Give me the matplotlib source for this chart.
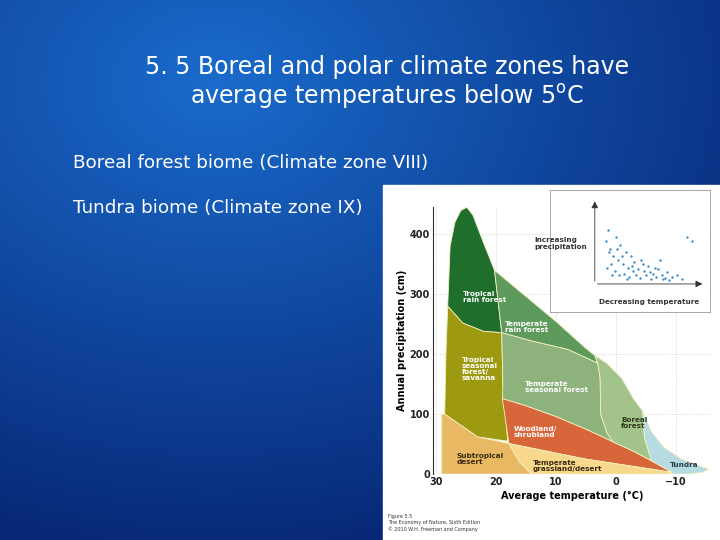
import numpy as np
import matplotlib.pyplot as plt
from matplotlib.patches import Polygon, Rectangle

# Biome polygons: (average temperature °C, annual precipitation cm)
tropical_rain = [(28,280),(27.6,380),(26.8,420),(25.8,440),(24.8,445),(23.8,432),(22,385),(20.2,340),(19,236),(22,238),(25.5,252),(28,280)]
tropical_seasonal = [(28,280),(25.5,252),(22,238),(19,236),(18.8,150),(18,55),(23,62),(28.5,100),(28.3,200)]
subtropical_desert = [(29,100),(28.5,100),(23,62),(17.8,51),(16,20),(14,0),(29,0)]
temperate_rain = [(20.2,340),(16,305),(10,255),(5,210),(3.5,198),(3,185),(8,208),(14,222),(19,236)]
temperate_seasonal = [(19,236),(14,222),(8,208),(3,185),(2.6,160),(2.5,100),(1.5,70),(0.5,54),(5,75),(10,96),(15,114),(18.9,126),(18.8,150)]
woodland = [(18.9,126),(15,114),(10,96),(5,75),(0.5,54),(-3,38),(-6,22),(-9.4,3),(5,25),(17.8,51)]
grassland = [(17.8,51),(5,25),(-9.4,3),(-9,0),(14,0),(16,20)]
boreal = [(3.5,198),(1.5,185),(-1,160),(-3,125),(-4.5,105),(-4.8,60),(-6,22),(-3,38),(0.5,54),(1.5,70),(2.5,100),(2.6,160),(3,185)]
tundra = [(-4.5,105),(-6,70),(-8,45),(-11,25),(-14,14),(-15.5,8),(-14.5,3),(-12,0),(-9,0),(-9.4,3),(-6,22),(-4.8,60)]

biomes = [tropical_rain, tropical_seasonal, subtropical_desert, temperate_rain,
          temperate_seasonal, woodland, grassland, boreal, tundra]
colors = ['#1f6e2c', '#9d9a12', '#e8b862', '#5e9a5c', '#8db27c', '#d8663b', '#f7d88c', '#a3c38c', '#b6dce2']
labels = [("Tropical\nrain forest", 25.5, 295), ("Tropical\nseasonal\nforest/\nsavanna", 25.6, 175),
          ("Subtropical\ndesert", 26.5, 25), ("Temperate\nrain forest", 18.5, 245),
          ("Temperate\nseasonal forest", 15.2, 145), ("Woodland/\nshrubland", 17, 70),
          ("Temperate\ngrassland/desert", 13.8, 13), ("Boreal\nforest", -0.9, 85), ("Tundra", -9, 15)]
label_colors = ['white','white','#3a2a10','white','white','white','#3a2a10','#2a3a1a','#2a3a4a']

xticks = [30, 20, 10, 0, -10]
yticks = [0, 100, 200, 300, 400]

# mini inset scatter (relative positions 0..1)
mini_x = [0.08,0.1,0.12,0.15,0.18,0.2,0.22,0.25,0.28,0.3,0.33,0.36,0.4,0.43,0.46,0.5,0.55,0.6,0.65,0.7,0.75,0.8,0.85,0.09,0.13,0.17,0.21,0.26,0.31,0.35,0.42,0.48,0.53,0.58,0.62,0.68,0.72,0.11,0.14,0.19,0.24,0.29,0.34,0.38,0.45,0.52,0.57,0.9,0.95,0.66]
mini_y = [0.55,0.7,0.45,0.35,0.6,0.3,0.5,0.25,0.4,0.2,0.35,0.28,0.18,0.3,0.15,0.22,0.12,0.18,0.1,0.14,0.08,0.1,0.05,0.2,0.25,0.15,0.1,0.12,0.08,0.15,0.06,0.1,0.05,0.08,0.3,0.06,0.04,0.4,0.1,0.45,0.35,0.05,0.22,0.1,0.25,0.14,0.2,0.6,0.55,0.05]

fig = plt.figure(figsize=(7.2, 5.4), dpi=100)

# background gradient
bg = fig.add_axes([0, 0, 1, 1])
yy, xx = np.mgrid[0:1:200j, 0:1:200j]
r = np.sqrt((xx - 0.3)**2 + (yy - 0.15)**2)
t = np.clip(r / 1.0, 0, 1)
c1 = np.array([0.10, 0.42, 0.80]); c2 = np.array([0.02, 0.12, 0.42])
img = c1[None, None, :] * (1 - t[..., None]) + c2[None, None, :] * t[..., None]
bg.imshow(img, extent=[0, 1, 0, 1], aspect='auto', origin='upper')
bg.set_xlim(0, 1); bg.set_ylim(0, 1); bg.axis('off')
bg.add_patch(Rectangle((383/720, 0), 1, 1 - 185/540, color='white', zorder=2))

fig.text(0.537, 1 - 67/540, "5. 5 Boreal and polar climate zones have", color='white',
         fontsize=17, ha='center', va='center')
fig.text(0.537, 1 - 96/540, "average temperatures below 5$^{\\mathrm{o}}$C", color='white',
         fontsize=17, ha='center', va='center')
fig.text(73/720, 1 - 163/540, "Boreal forest biome (Climate zone VIII)", color='white', fontsize=13.2, va='center')
fig.text(73/720, 1 - 208/540, "Tundra biome (Climate zone IX)", color='white', fontsize=13.2, va='center')

ax = fig.add_axes([0.601, 0.122, 0.3875, 0.494])
ax.set_facecolor('white')
for poly, col in zip(biomes, colors):
    ax.add_patch(Polygon(poly, closed=True, facecolor=col, edgecolor='#f4f0c0', lw=0.6, zorder=3))
for (txt, x, y), lc in zip(labels, label_colors):
    ax.text(x, y, txt, color=lc, fontsize=5.2, fontweight='bold', va='center', ha='left', zorder=5, linespacing=1.0)
ax.set_xlim(30.5, -16); ax.set_ylim(0, 445)
ax.set_xticks(xticks); ax.set_xticklabels(['30', '20', '10', '0', '\u221210'])
ax.set_yticks(yticks)
ax.tick_params(length=0, labelsize=7, pad=2)
for lab in ax.get_xticklabels() + ax.get_yticklabels():
    lab.set_fontweight('bold'); lab.set_color('#222222')
ax.grid(True, color='#cccccc', ls=':', lw=0.6, zorder=0)
for s in ['top', 'right', 'bottom']:
    ax.spines[s].set_visible(False)
ax.spines['left'].set_color('#333333')
ax.set_xlabel("Average temperature (\u00b0C)", fontsize=7, fontweight='bold', labelpad=3)
ax.set_ylabel("Annual precipitation (cm)", fontsize=7, fontweight='bold', labelpad=2)

# mini inset
bx = fig.add_axes([550/720, 1 - 312/540, 160/720, 122/540])
bx.set_facecolor('white')
for s in ['top', 'right', 'bottom', 'left']:
    bx.spines[s].set_color('#999999'); bx.spines[s].set_linewidth(0.6)
bx.set_xticks([]); bx.set_yticks([])
bx.set_xlim(0, 1); bx.set_ylim(0, 1)
bx.annotate('', xy=(0.28, 0.93), xytext=(0.28, 0.23), arrowprops=dict(arrowstyle='-|>', lw=0.6, color='#333'))
bx.annotate('', xy=(0.97, 0.23), xytext=(0.28, 0.23), arrowprops=dict(arrowstyle='-|>', lw=0.6, color='#333'))
mx = [0.3 + 0.62 * v for v in mini_x]
my = [0.24 + 0.62 * v for v in mini_y]
bx.scatter(mx, my, s=3, color='#3c8cc8', zorder=3, lw=0)
bx.text(-0.1, 0.52, "Increasing\nprecipitation", fontsize=5.2, fontweight='bold', color='#333', transform=bx.transAxes)
bx.text(0.62, 0.08, "Decreasing temperature", fontsize=5.2, fontweight='bold', color='#333', ha='center', va='center')

fig.text(388/720, 1 - 523/540, "Figure 5.5\nThe Economy of Nature, Sixth Edition\n\u00a9 2010 W.H. Freeman and Company",
         fontsize=3.5, color='#333', va='center', ha='left', linespacing=1.2)

fig.savefig('out.png', dpi=100)
